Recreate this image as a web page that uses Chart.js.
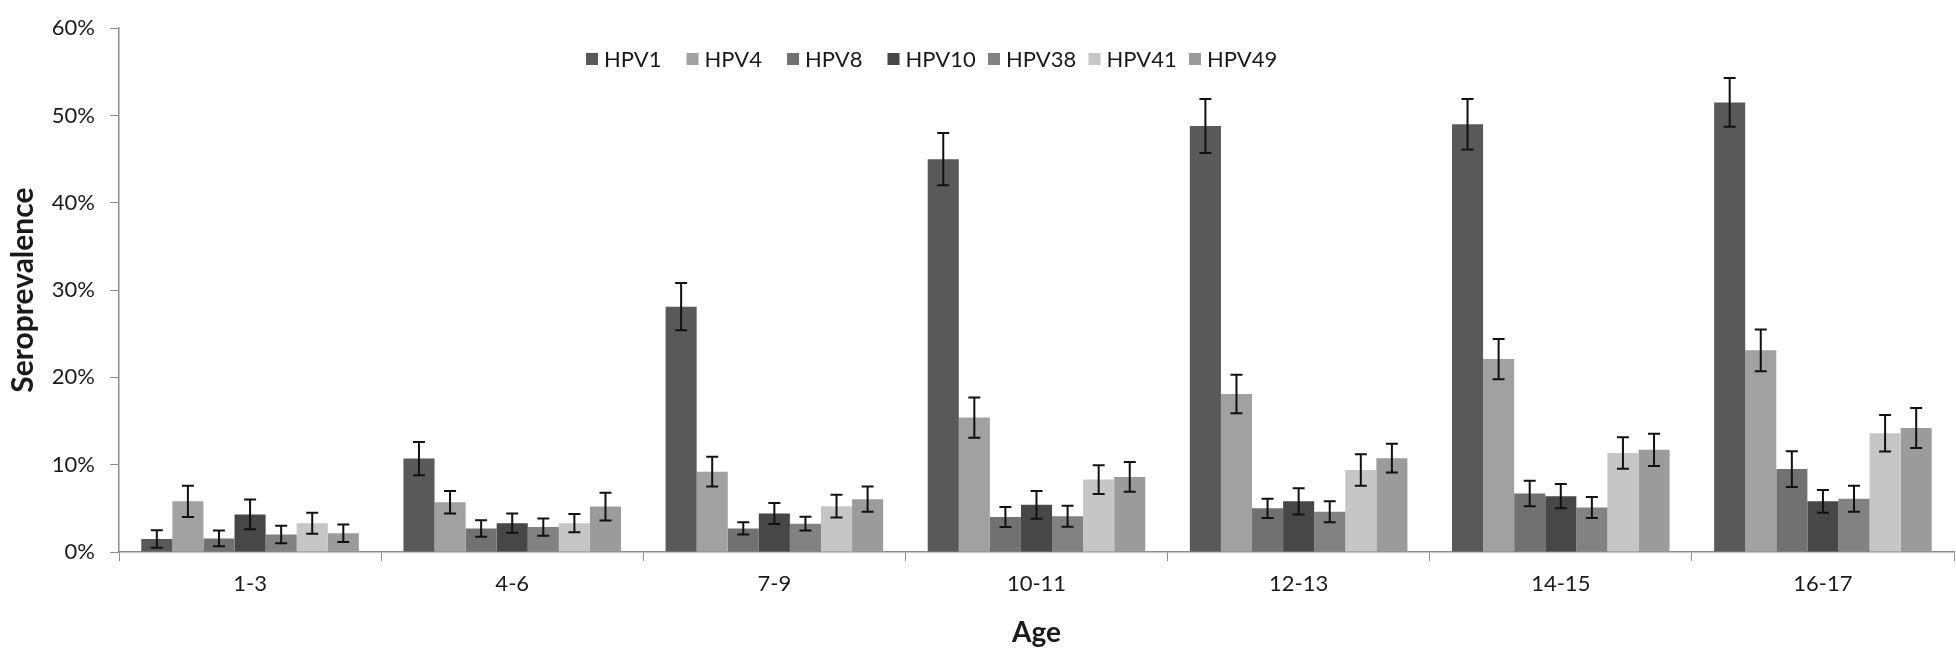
<!DOCTYPE html>
<html>
<head>
<meta charset="utf-8">
<title>HPV seroprevalence by age</title>
<script src="https://cdn.jsdelivr.net/npm/chart.js@4/dist/chart.umd.min.js"></script>
<style>
    html, body { margin: 0; padding: 0; background: #fff; }
    #wrap { width: 1956px; height: 654px; }
</style>
</head>
<body>
<div id="wrap"><canvas id="seroChart" width="1956" height="654"></canvas></div>
<script>
// Age groups on the x axis
const ageGroups = ['1-3', '4-6', '7-9', '10-11', '12-13', '14-15', '16-17'];

// Seroprevalence (%) per HPV type
const hpv1 = [1.5, 10.7, 28.1, 45.0, 48.8, 49.0, 51.5];
const hpv4 = [5.8, 5.7, 9.2, 15.4, 18.1, 22.1, 23.1];
const hpv8 = [1.55, 2.7, 2.7, 4.0, 5.0, 6.7, 9.5];
const hpv10 = [4.3, 3.3, 4.4, 5.4, 5.8, 6.4, 5.8];
const hpv38 = [2.0, 2.85, 3.25, 4.1, 4.6, 5.1, 6.1];
const hpv41 = [3.3, 3.3, 5.25, 8.3, 9.4, 11.35, 13.6];
const hpv49 = [2.15, 5.2, 6.05, 8.6, 10.75, 11.7, 14.2];

// Half-width of the error bars (%)
const hpv1Err = [1.0, 1.9, 2.7, 3.0, 3.1, 2.9, 2.8];
const hpv4Err = [1.8, 1.3, 1.7, 2.3, 2.2, 2.3, 2.4];
const hpv8Err = [0.9, 0.95, 0.7, 1.15, 1.1, 1.45, 2.05];
const hpv10Err = [1.7, 1.1, 1.2, 1.6, 1.5, 1.4, 1.3];
const hpv38Err = [1.0, 1.0, 0.8, 1.2, 1.2, 1.2, 1.5];
const hpv41Err = [1.2, 1.05, 1.3, 1.65, 1.8, 1.8, 2.1];
const hpv49Err = [1.0, 1.6, 1.45, 1.7, 1.65, 1.85, 2.3];

// Y axis ticks
const yTicks = [0, 10, 20, 30, 40, 50, 60];

const series = [
    { label: 'HPV1', data: hpv1, err: hpv1Err, color: '#595959' },
    { label: 'HPV4', data: hpv4, err: hpv4Err, color: '#a1a1a1' },
    { label: 'HPV8', data: hpv8, err: hpv8Err, color: '#717171' },
    { label: 'HPV10', data: hpv10, err: hpv10Err, color: '#474747' },
    { label: 'HPV38', data: hpv38, err: hpv38Err, color: '#828282' },
    { label: 'HPV41', data: hpv41, err: hpv41Err, color: '#c6c6c6' },
    { label: 'HPV49', data: hpv49, err: hpv49Err, color: '#9b9b9b' },
];

// Error bars drawn on top of each bar, using the chart's own y scale
const errorBars = {
    id: 'errorBars',
    afterDatasetsDraw(chart) {
        const ctx = chart.ctx;
        const y = chart.scales.y;
        ctx.save();
        ctx.strokeStyle = '#111';
        ctx.lineWidth = 2;
        chart.data.datasets.forEach((ds, i) => {
            const meta = chart.getDatasetMeta(i);
            meta.data.forEach((bar, j) => {
                const v = ds.data[j];
                const e = ds.errors[j];
                const top = y.getPixelForValue(v + e);
                const bot = y.getPixelForValue(v - e);
                ctx.beginPath();
                ctx.moveTo(bar.x, top);
                ctx.lineTo(bar.x, bot);
                ctx.moveTo(bar.x - 6, top);
                ctx.lineTo(bar.x + 6, top);
                ctx.moveTo(bar.x - 6, bot);
                ctx.lineTo(bar.x + 6, bot);
                ctx.stroke();
            });
        });
        ctx.restore();
    }
};

// Excel-style legend: one row inside the plot, equal-width slots
const rowLegend = {
    id: 'rowLegend',
    afterDraw(chart) {
        const ctx = chart.ctx;
        const startX = 586;
        const slot = 100.5;
        const midY = 59;
        ctx.save();
        ctx.font = '22px Lato, "Open Sans", sans-serif';
        ctx.textBaseline = 'middle';
        ctx.fillStyle = '#1a1a1a';
        chart.data.datasets.forEach((ds, i) => {
            const x = startX + i * slot;
            ctx.fillStyle = ds.backgroundColor;
            ctx.fillRect(x, midY - 6, 12, 12);
            ctx.fillStyle = '#1a1a1a';
            ctx.fillText(ds.label, x + 18, midY + 1);
        });
        ctx.restore();
    }
};

Chart.defaults.font.family = 'Lato, "Open Sans", sans-serif';
Chart.defaults.color = '#1a1a1a';

const ctx = document.getElementById('seroChart').getContext('2d');
new Chart(ctx, {
    type: 'bar',
    data: {
        labels: ageGroups,
        datasets: series.map(s => ({
            label: s.label,
            data: s.data,
            errors: s.err,
            backgroundColor: s.color,
            borderWidth: 0,
            categoryPercentage: 0.83,
            barPercentage: 1.0,
        })),
    },
    options: {
        responsive: false,
        animation: false,
        devicePixelRatio: 1,
        layout: { padding: { top: 0, right: 2, bottom: 0, left: 0 } },
        plugins: {
            tooltip: { enabled: false },
            legend: { display: false },
        },
        scales: {
            x: {
                offset: true,
                grid: {
                    offset: true,
                    drawOnChartArea: false,
                    drawTicks: true,
                    tickLength: 9,
                    color: '#8c8c8c',
                },
                border: { color: '#8c8c8c', width: 1.5 },
                ticks: { font: { size: 22 }, padding: 10 },
                title: {
                    display: true,
                    text: 'Age',
                    font: { size: 28, weight: 'bold' },
                    padding: { top: 0, bottom: 4 },
                },
                afterFit(scale) { scale.height = 102; },
            },
            y: {
                min: 0,
                max: 60,
                afterBuildTicks(scale) { scale.ticks = yTicks.map(v => ({ value: v })); },
                grid: {
                    drawOnChartArea: false,
                    drawTicks: true,
                    tickLength: 9,
                    color: '#8c8c8c',
                },
                border: { color: '#8c8c8c', width: 1.5 },
                ticks: {
                    font: { size: 22 },
                    padding: 15,
                    callback: v => v + '%',
                },
                title: {
                    display: true,
                    text: 'Seroprevalence',
                    font: { size: 30, weight: 'bold' },
                    padding: { top: 5, bottom: 0 },
                },
                afterFit(scale) { scale.width = 119; },
            },
        },
    },
    plugins: [errorBars, rowLegend],
});
</script>
</body>
</html>
